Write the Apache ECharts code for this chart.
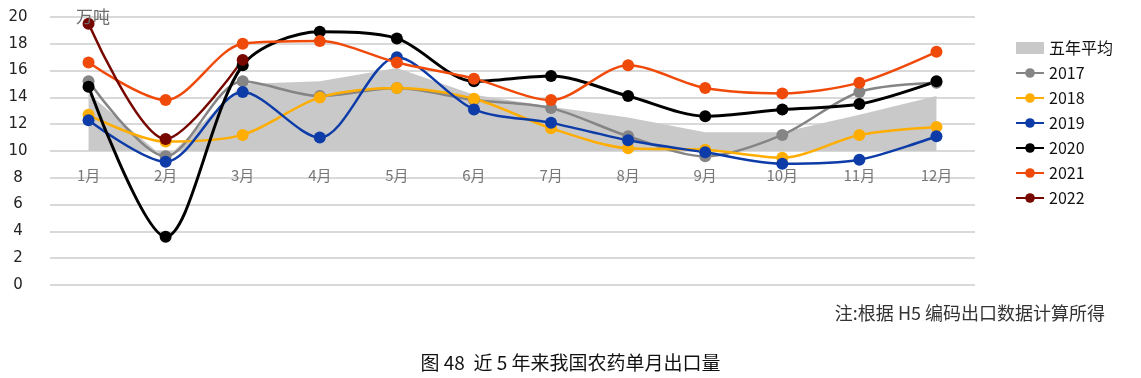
<!DOCTYPE html>
<html>
<head>
<meta charset="utf-8">
<script src="https://cdn.jsdelivr.net/npm/echarts@6/dist/echarts.min.js"></script>
<style>
  html, body { margin: 0; padding: 0; background: #fff; }
  #main { width: 1141px; height: 378px; }
</style>
</head>
<body>
<div id="main"></div>
<script>
// 月份
const months = ['1月', '2月', '3月', '4月', '5月', '6月', '7月', '8月', '9月', '10月', '11月', '12月'];
// 五年平均
const avg5 = [14.3, 9.4, 15.0, 15.2, 16.2, 14.2, 13.3, 12.5, 11.4, 11.4, 12.7, 14.1];
const y2017 = [15.2, 9.6, 15.2, 14.1, 14.7, 13.8, 13.2, 11.1, 9.6, 11.2, 14.4, 15.1];
const y2018 = [12.7, 10.7, 11.2, 14.0, 14.7, 13.9, 11.7, 10.2, 10.1, 9.5, 11.2, 11.8];
const y2019 = [12.3, 9.2, 14.4, 11.0, 17.0, 13.1, 12.1, 10.8, 9.9, 9.05, 9.35, 11.1];
const y2020 = [14.8, 3.6, 16.4, 18.9, 18.4, 15.2, 15.6, 14.1, 12.6, 13.1, 13.5, 15.2];
const y2021 = [16.6, 13.8, 18.0, 18.2, 16.6, 15.4, 13.8, 16.4, 14.7, 14.3, 15.1, 17.4];
const y2022 = [19.5, 10.9, 16.8];
const yTicks = [0, 2, 4, 6, 8, 10, 12, 14, 16, 18, 20];

const myChart = echarts.init(document.getElementById('main'));

function lineSeries(name, data, color, width) {
  return {
    name: name,
    type: 'line',
    data: data,
    smooth: 0.3,
    symbol: 'circle',
    symbolSize: 12,
    lineStyle: { color: color, width: width },
    itemStyle: { color: color },
    emphasis: { disabled: true }
  };
}

const option = {
  animation: false,
  title: [
    { text: '万吨', left: 71, top: 3, textStyle: { fontSize: 17, fontWeight: 'normal', color: '#6e6e6e', fontFamily: 'Noto Sans CJK SC' } },
    { text: '注:根据 H5 编码出口数据计算所得', right: 31, top: 299, textStyle: { fontSize: 18, fontWeight: 'normal', color: '#333', fontFamily: 'Noto Sans CJK SC' } },
    { text: '图 48  近 5 年来我国农药单月出口量', left: 'center', top: 348, textStyle: { fontSize: 19, fontWeight: 'normal', color: '#111', fontFamily: 'Noto Sans CJK SC' } }
  ],
  legend: {
    orient: 'vertical',
    left: 1010,
    top: 35,
    itemWidth: 28,
    itemHeight: 12,
    itemGap: 9,
    textStyle: { fontSize: 16, color: '#111', fontFamily: 'Noto Sans CJK SC' },
    data: [
      { name: '五年平均', icon: 'rect', itemStyle: { color: '#c9c9c9' } },
      '2017', '2018', '2019', '2020', '2021', '2022'
    ]
  },
  grid: { left: 50, right: 166, top: 17, bottom: 93 },
  xAxis: {
    type: 'category',
    data: months,
    offset: -134,
    axisLine: { show: false },
    axisTick: { show: false },
    axisLabel: { margin: 17, fontSize: 15, color: '#777', fontFamily: 'Noto Sans CJK SC' }
  },
  yAxis: {
    type: 'value',
    min: yTicks[0],
    max: yTicks[yTicks.length - 1],
    interval: 2,
    axisLabel: { margin: 32, align: 'center', fontSize: 15, color: '#222', fontFamily: 'DejaVu Sans' },
    splitLine: { lineStyle: { color: '#d9d9d9', width: 2 } }
  },
  series: [
    {
      name: '五年平均',
      type: 'line',
      data: avg5,
      symbol: 'none',
      lineStyle: { width: 0 },
      itemStyle: { color: '#c9c9c9' },
      areaStyle: { color: '#c9c9c9', opacity: 1, origin: 10 },
      emphasis: { disabled: true }
    },
    lineSeries('2017', y2017, '#858585', 2.5),
    lineSeries('2018', y2018, '#ffad00', 2.5),
    lineSeries('2019', y2019, '#0d3ca8', 2.5),
    lineSeries('2020', y2020, '#000000', 3),
    lineSeries('2021', y2021, '#f04a0a', 2.5),
    lineSeries('2022', y2022, '#760800', 2.5)
  ]
};
myChart.setOption(option);
</script>
</body>
</html>
